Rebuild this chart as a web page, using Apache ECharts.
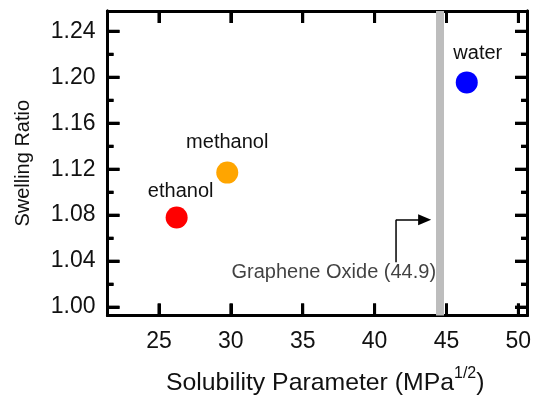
<!DOCTYPE html>
<html>
<head>
<meta charset="utf-8">
<script src="https://cdn.jsdelivr.net/npm/echarts@6/dist/echarts.min.js"></script>
<style>
  html, body { margin: 0; padding: 0; background: #fff; }
  #chart { width: 535px; height: 401px; }
</style>
</head>
<body>
<div id="chart"></div>
<script>
  // solvents: solubility parameter vs swelling ratio
  var solvents = ['ethanol', 'methanol', 'water'];
  var solubility = [26.23, 29.75, 46.41];
  var swelling = [1.078, 1.117, 1.1955];
  var dotColors = ['#ff0000', '#ffa500', '#0000ff'];
  var labelOffsets = [[4, 0], [0, -4], [11, -3]];

  // graphene oxide marker (drawn where it sits in the figure)
  var goLabel = 'Graphene Oxide (44.9)';
  var goX = 44.55;
  var goLabelPos = [37.16, 1.0303];
  var arrowPath = [[41.49, 1.039], [41.49, 1.076], [43.48, 1.076]];

  // axes
  var xRange = [21.42, 50.6];
  var yRange = [0.9927, 1.2576];
  var xTicks = [25, 30, 35, 40, 45, 50];
  var yTicks = [1.00, 1.04, 1.08, 1.12, 1.16, 1.20, 1.24];
  var yMinor = [1.02, 1.06, 1.10, 1.14, 1.18, 1.22];

  var font = 'Arial, "Liberation Sans", sans-serif';
  var ink = '#111';
  var frame = '#000';

  var chart = echarts.init(document.getElementById('chart'));

  function xAxisOf(pos, withLabels) {
    return {
      type: 'value', position: pos, min: xRange[0], max: xRange[1],
      axisLine: { show: true, onZero: false, lineStyle: { color: frame, width: 3 } },
      axisTick: { show: true, inside: true, length: 12, customValues: xTicks, lineStyle: { color: frame, width: 3 } },
      axisLabel: { show: withLabels, customValues: xTicks, margin: 15, fontSize: 23, fontFamily: font, color: ink },
      splitLine: { show: false }
    };
  }
  function yAxisOf(pos, ticks, len, withLabels) {
    return {
      type: 'value', position: pos, min: yRange[0], max: yRange[1],
      axisLine: { show: true, onZero: false, lineStyle: { color: frame, width: 3 } },
      axisTick: { show: true, inside: true, length: len, customValues: ticks, lineStyle: { color: frame, width: 3 } },
      axisLabel: {
        show: withLabels, customValues: ticks, margin: 12, fontSize: 23, fontFamily: font, color: ink,
        formatter: function (v) { return v.toFixed(2); }
      },
      splitLine: { show: false }
    };
  }

  var xBottom = xAxisOf('bottom', true);
  xBottom.name = '{m|Solubility Parameter (MPa}{s|1/2}{m|)}';
  xBottom.nameLocation = 'middle';
  xBottom.nameGap = 50;
  xBottom.nameTextStyle = {
    padding: [0, 0, 0, 16],
    rich: {
      m: { fontSize: 24.8, fontFamily: font, color: ink },
      s: { fontSize: 16, fontFamily: font, color: ink, padding: [0, 0, 20, 0] }
    }
  };

  var yLeft = yAxisOf('left', yTicks, 12, true);
  yLeft.name = 'Swelling Ratio';
  yLeft.nameLocation = 'middle';
  yLeft.nameGap = 74;
  yLeft.nameTextStyle = { fontSize: 20, fontFamily: font, color: ink };

  var points = solvents.map(function (s, i) {
    return {
      name: s,
      value: [solubility[i], swelling[i]],
      itemStyle: { color: dotColors[i], opacity: 1 },
      label: { offset: labelOffsets[i] }
    };
  });

  chart.setOption({
    animation: false,
    grid: { left: 107.5, right: 8, top: 11, bottom: 83 },
    xAxis: [xBottom, xAxisOf('top', false)],
    yAxis: [
      yLeft,
      yAxisOf('left', yMinor, 6, false),
      yAxisOf('right', yTicks, 12, false),
      yAxisOf('right', yMinor, 6, false)
    ],
    series: [
      {
        name: 'go', type: 'line', data: [], silent: true, z: 1,
        markLine: {
          silent: true, symbol: 'none', animation: false,
          label: { show: false },
          lineStyle: { type: 'solid', color: '#bdbdbd', width: 8 },
          data: [{ xAxis: goX }]
        }
      },
      {
        name: 'arrow', type: 'line', data: arrowPath.slice(0, 2), silent: true, z: 3,
        showSymbol: false, symbol: 'none',
        lineStyle: { color: frame, width: 1.5 },
        markLine: {
          silent: true, animation: false,
          label: { show: false },
          lineStyle: { type: 'solid', color: frame, width: 1.5 },
          data: [[
            { coord: arrowPath[1], symbol: 'none' },
            { coord: arrowPath[2], symbol: 'triangle', symbolSize: [11, 13] }
          ]]
        }
      },
      {
        name: 'goLabel', type: 'scatter', silent: true, z: 3,
        symbolSize: 0,
        data: [{ value: goLabelPos }],
        label: {
          show: true, position: 'inside', formatter: goLabel,
          fontSize: 20, fontFamily: font, color: ink
        }
      },
      {
        name: 'solvents', type: 'scatter', symbolSize: 22, z: 5,
        data: points,
        label: {
          show: true, position: 'top', distance: 5,
          formatter: '{b}', fontSize: 20, fontFamily: font, color: ink
        }
      }
    ]
  });

  // inward tick marks on all four sides, placed from the axis scales
  var toPx = function (p) { return chart.convertToPixel({ gridIndex: 0 }, p); };
  var tickLines = [];
  function seg(a, dx, dy) {
    tickLines.push({
      type: 'line', silent: true, z: 100,
      shape: { x1: a[0], y1: a[1], x2: a[0] + dx, y2: a[1] + dy },
      style: { stroke: frame, lineWidth: 3 }
    });
  }
  xTicks.forEach(function (v) {
    seg(toPx([v, yRange[0]]), 0, -12);
    seg(toPx([v, yRange[1]]), 0, 12);
  });
  function yTick(v, len) {
    seg(toPx([xRange[0], v]), len, 0);
    seg(toPx([xRange[1], v]), -len, 0);
  }
  yTicks.forEach(function (v) { yTick(v, 12); });
  yMinor.forEach(function (v) { yTick(v, 6); });
  chart.setOption({ graphic: { elements: tickLines } });
</script>
</body>
</html>
